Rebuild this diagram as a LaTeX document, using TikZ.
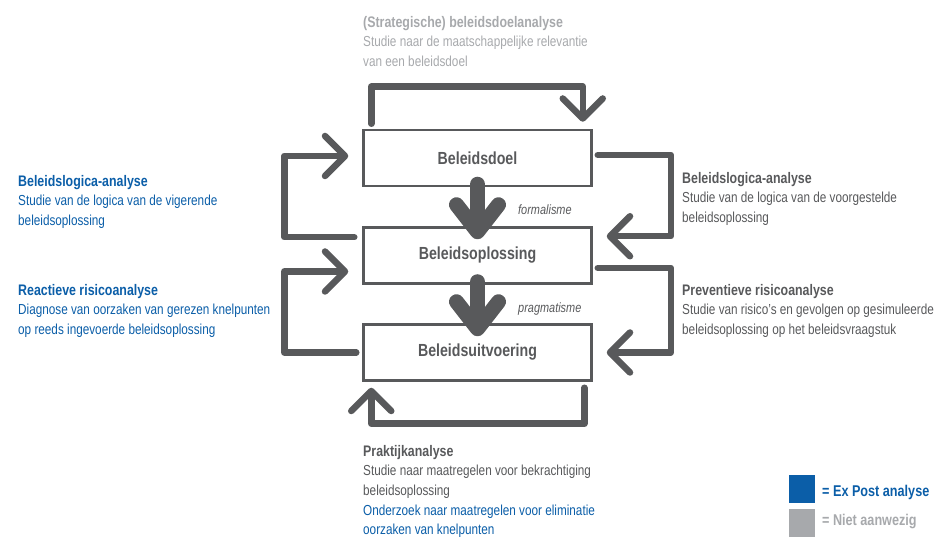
\documentclass[tikz,border=0pt]{standalone}
\usepackage{fontspec}
\setmainfont{Liberation Sans}[FakeStretch=0.81]
\usetikzlibrary{calc,arrows.meta,positioning}
\definecolor{dgray}{HTML}{58595B}
\definecolor{lgray}{HTML}{A7A9AC}
\definecolor{epblue}{HTML}{0B5EA8}
\newcommand{\infohead}[1]{{\fontsize{15.3}{20}\selectfont\bfseries #1}}

\begin{document}
\begin{tikzpicture}[x=1pt,y=-1pt,
    box/.style={draw=dgray,line width=2.5pt,minimum width=228pt,minimum height=56pt,
      inner sep=0pt,text=dgray,font=\fontsize{17.5}{17.5}\selectfont\bfseries},
    loop/.style={draw=dgray,line width=6.5pt,line cap=round,line join=round,
      -{Straight Barb[length=20pt,width=40pt,round]}},
    flow/.style={draw=dgray,line width=15pt,line cap=round,
      -{Straight Barb[length=27pt,width=42pt,round]}},
    info/.style={anchor=north west,inner sep=0pt,align=left,
      font=\fontsize{14.5}{19.6}\selectfont},
    lbl/.style={anchor=base west,inner sep=0pt,text=dgray,
      font=\fontsize{13.5}{13.5}\selectfont\itshape},
    key/.style={anchor=north west,inner sep=0pt,minimum width=26pt,minimum height=28pt},
    keytext/.style={anchor=base west,inner sep=0pt,font=\fontsize{15.6}{15.6}\selectfont\bfseries}]
  \useasboundingbox (0,0) rectangle (935,537);

  % the three steps
  \node[box] (doel) at (477.5,158) {Beleidsdoel};
  \node[box] (opl) at (477.5,255.5) {Beleidsoplossing};
  \node[box] (uitv) at (477.5,352.5) {Beleidsuitvoering};

  % big arrows between the steps
  \draw[flow] ($(doel.south)+(0,-3)$) -- ($(opl.north)+(0,13)$);
  \draw[flow] ($(opl.south)+(0,-3)$) -- ($(uitv.north)+(0,13)$);
  \node[lbl] (form) at ($(doel.south)+(40.5,27)$) {formalisme};
  \node[lbl] (prag) at ($(opl.south)+(40.5,27.5)$) {pragmatisme};

  % loops
  \coordinate (t1) at ($(doel.north west)+(9,-5)$);
  \coordinate (t2) at ($(doel.north east)+(-10,-7)$);
  \draw[loop] (t1) -- ++(0,-37) -| (t2);
  \coordinate (l1) at ($(opl.north west)+(-8,11)$);
  \coordinate (l2) at ($(doel.west)+(-14,-2)$);
  \draw[loop] (l1) -- ++(-70,0) |- (l2);
  \coordinate (l3) at ($(uitv.west)+(-6,0)$);
  \coordinate (l4) at ($(opl.west)+(-14,16)$);
  \draw[loop] (l3) -- ++(-72,0) |- (l4);
  \coordinate (r1) at ($(doel.east)+(5,-3)$);
  \coordinate (r2) at ($(opl.north east)+(14,10)$);
  \draw[loop] (r1) -- ++(73,0) |- (r2);
  \coordinate (r3) at ($(opl.east)+(5,12.5)$);
  \coordinate (r4) at ($(uitv.east)+(14,0)$);
  \draw[loop] (r3) -- ++(73,0) |- (r4);
  \coordinate (b1) at ($(uitv.south east)+(-8.5,6)$);
  \coordinate (b2) at ($(uitv.south west)+(9,6)$);
  \draw[loop] (b1) -- ++(0,36) -| (b2);

  % texts round the loops
  \node[info,text=lgray] (doelan) at (363,16)
    {\infohead{(Strategische) beleidsdoelanalyse}\\
     Studie naar de maatschappelijke relevantie\\van een beleidsdoel};
  \node[info,text=epblue] (logl) at (18,175)
    {\infohead{Beleidslogica-analyse}\\
     Studie van de logica van de vigerende\\beleidsoplossing};
  \node[info,text=epblue] (risl) at (18,284)
    {\infohead{Reactieve risicoanalyse}\\
     Diagnose van oorzaken van gerezen knelpunten\\op reeds ingevoerde beleidsoplossing};
  \node[info,text=dgray] (logr) at (682,172)
    {\infohead{Beleidslogica-analyse}\\
     Studie van de logica van de voorgestelde\\beleidsoplossing};
  \node[info,text=dgray] (risr) at (682,284)
    {\infohead{Preventieve risicoanalyse}\\
     Studie van risico’s en gevolgen op gesimuleerde\\beleidsoplossing op het beleidsvraagstuk};
  \node[info,text=dgray] (prak) at (363,445)
    {\infohead{Praktijkanalyse}\\
     Studie naar maatregelen voor bekrachtiging\\beleidsoplossing\\
     \color{epblue}Onderzoek naar maatregelen voor eliminatie\\
     \color{epblue}oorzaken van knelpunten};

  % legend
  \node[key,fill=epblue] (kexp) at (789,475) {};
  \node[key,fill=lgray] (kniet) at (789,509) {};
  \node[keytext,text=epblue] (lexp) at (822,496) {= Ex Post analyse};
  \node[keytext,text=lgray] (lniet) at (822,525) {= Niet aanwezig};
\end{tikzpicture}
\end{document}
